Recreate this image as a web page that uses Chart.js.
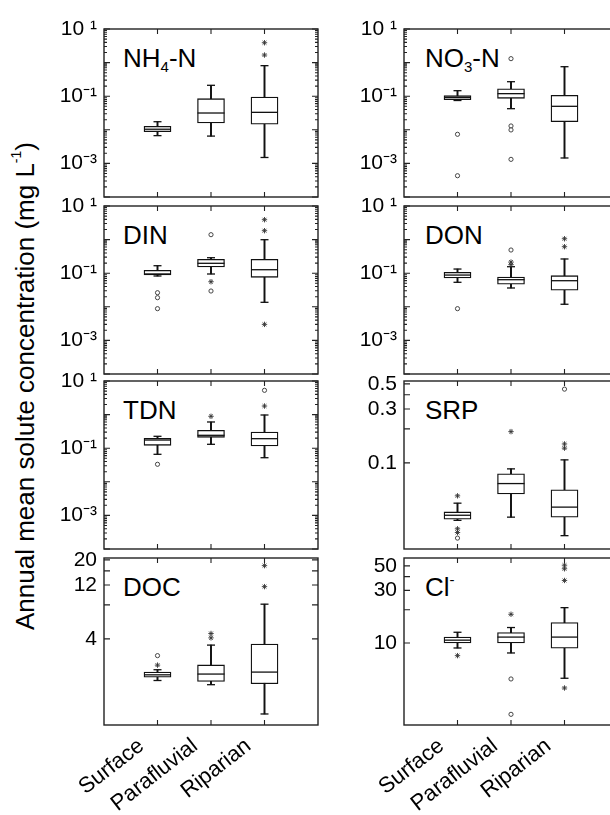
<!DOCTYPE html>
<html>
<head>
<meta charset="utf-8">
<script src="https://cdn.jsdelivr.net/npm/chart.js@4.4.1/dist/chart.umd.min.js"></script>
<style>
html, body { margin: 0; padding: 0; width: 610px; height: 815px; overflow: hidden; background: #fff; }
canvas { position: absolute; }
.lab { position: absolute; font: 26px 'Liberation Sans', Arial, sans-serif; line-height: 26px; color: #000; white-space: nowrap; }
.lab sub { font-size: 15px; position: relative; top: 5px; vertical-align: baseline; line-height: 0; }
.lab sup { font-size: 15px; position: relative; top: -11px; vertical-align: baseline; line-height: 0; }
#ytitle { position: absolute; left: 25px; top: 386px; transform: translate(-50%, -50%) rotate(-90deg);
  font: 26px 'Liberation Sans', Arial, sans-serif; white-space: nowrap; color: #000; }
#ytitle sup { font-size: 14px; position: relative; top: -3px; vertical-align: super; line-height: 0; }
</style>
</head>
<body>
<div id="ytitle">Annual mean solute concentration (mg L<sup>-1</sup>)</div>
<div class="lab" style="left:123px; top:45px">NH<sub>4</sub>-N</div>
<div class="lab" style="left:425px; top:45px">NO<sub>3</sub>-N</div>
<div class="lab" style="left:123px; top:222px">DIN</div>
<div class="lab" style="left:425px; top:222px">DON</div>
<div class="lab" style="left:123px; top:397px">TDN</div>
<div class="lab" style="left:425px; top:397px">SRP</div>
<div class="lab" style="left:123px; top:574px">DOC</div>
<div class="lab" style="left:425px; top:574px">Cl<sup>-</sup></div>
<script>
const groups = ['Surface', 'Parafluvial', 'Riparian'];

// per group: [lower whisker, Q1, median, Q3, upper whisker]
const nh4 = [[0.0067, 0.0088, 0.0104, 0.0127, 0.0174], [0.0065, 0.0159, 0.0316, 0.0843, 0.211], [0.0015, 0.0146, 0.0331, 0.0947, 0.81]];
const nh4Circles = [[], [], []];
const nh4Stars = [[], [], [3.9, 1.68]];

const no3 = [[0.0745, 0.0787, 0.0915, 0.1035, 0.146], [0.0425, 0.0865, 0.119, 0.167, 0.27], [0.00145, 0.0174, 0.05, 0.106, 0.755]];
const no3Circles = [[0.00735, 0.00043], [1.31, 0.013, 0.0099, 0.00132], []];
const no3Stars = [[], [], []];

const din = [[0.0826, 0.0884, 0.095, 0.122, 0.167], [0.0947, 0.153, 0.197, 0.259, 0.289], [0.0136, 0.0755, 0.127, 0.259, 0.993]];
const dinCircles = [[0.0263, 0.0187, 0.0088], [1.4, 0.0295], []];
const dinStars = [[], [0.0558], [3.91, 1.84, 0.003]];

const don = [[0.0536, 0.072, 0.088, 0.106, 0.133], [0.0363, 0.0468, 0.0641, 0.0771, 0.156], [0.0119, 0.031, 0.0598, 0.0843, 0.265]];
const donCircles = [[0.0088], [0.49], []];
const donStars = [[], [0.215, 0.18], [1.06, 0.615]];

const tdn = [[0.0658, 0.122, 0.175, 0.197, 0.226], [0.1306, 0.211, 0.242, 0.341, 0.603], [0.0521, 0.116, 0.192, 0.303, 0.973]];
const tdnCircles = [[0.0332], [], [5.28]];
const tdnStars = [[], [0.889], [1.8]];

const srp = [[0.031, 0.0318, 0.0344, 0.0368, 0.044], [0.0331, 0.0532, 0.0656, 0.0799, 0.0885], [0.0227, 0.0331, 0.0406, 0.0577, 0.1063]];
const srpCircles = [[0.0216], [], [0.449]];
const srpStars = [[0.0511, 0.0261, 0.0242], [0.189], [0.147, 0.135]];

const doc = [[1.71, 1.83, 1.92, 2.03, 2.13], [1.57, 1.68, 1.95, 2.35, 3.52], [0.864, 1.6, 2.03, 3.59, 8.11]];
const docCircles = [[2.84], [], []];
const docStars = [[2.34], [4.46, 4.08], [17.8, 11.6]];

const cl = [[9.0, 10.0, 10.6, 11.3, 12.5], [8.11, 10.0, 11.3, 12.4, 13.8], [4.78, 8.95, 11.3, 15.3, 20.9]];
const clCircles = [[], [4.71, 2.25], []];
const clStars = [[7.67], [18.2], [50.8, 47.1, 36.9, 3.9]];

// y tick labels
const decadeTicks = [10, 0.1, 0.001];
const decadeLabels = ['10 ¹', '10⁻¹', '10⁻³'];
const srpTicks = [0.5, 0.3, 0.1];
const srpMarks = [0.1, 0.2, 0.3, 0.4, 0.5];
const docTicks = [20, 12, 4];
const docMarks = [4, 8, 12, 16, 20];
const clTicks = [50, 30, 10];
const clMarks = [10, 20, 30, 40, 50];

// log axis tick marks, 1..9 per decade
const logMarks = [];
for (let e = -4; e <= 0; e++) {
    for (let m = 1; m <= 9; m++) logMarks.push({ v: m * Math.pow(10, e), major: m === 1 });
}
logMarks.push({ v: 10, major: true });
const plainMarks = arr => arr.map(v => ({ v: v, major: true }));

const rowTop = [29, 206, 381, 558];
const rowBottom = [197, 374, 549, 725];
const colLeft = [0, 300];
const FONT = "'Liberation Sans', Arial, sans-serif";

const panels = [
    { col: 0, row: 0, box: nh4, circles: nh4Circles, stars: nh4Stars, min: 1e-4, max: 10, ticks: decadeTicks, labels: decadeLabels, marks: logMarks },
    { col: 1, row: 0, box: no3, circles: no3Circles, stars: no3Stars, min: 1e-4, max: 10, ticks: decadeTicks, labels: decadeLabels, marks: logMarks },
    { col: 0, row: 1, box: din, circles: dinCircles, stars: dinStars, min: 1e-4, max: 10, ticks: decadeTicks, labels: decadeLabels, marks: logMarks },
    { col: 1, row: 1, box: don, circles: donCircles, stars: donStars, min: 1e-4, max: 10, ticks: decadeTicks, labels: decadeLabels, marks: logMarks },
    { col: 0, row: 2, box: tdn, circles: tdnCircles, stars: tdnStars, min: 1e-4, max: 10, ticks: decadeTicks, labels: decadeLabels, marks: logMarks },
    { col: 1, row: 2, box: srp, circles: srpCircles, stars: srpStars, min: 0.0173, max: 0.53, ticks: srpTicks, labels: srpTicks.map(String), marks: plainMarks(srpMarks) },
    { col: 0, row: 3, box: doc, circles: docCircles, stars: docStars, min: 0.69, max: 20.8, ticks: docTicks, labels: docTicks.map(String), marks: plainMarks(docMarks) },
    { col: 1, row: 3, box: cl, circles: clCircles, stars: clStars, min: 1.8, max: 59, ticks: clTicks, labels: clTicks.map(String), marks: plainMarks(clMarks) }
];

// frame with inward ticks, like the original plot
const frame = {
    id: 'frame',
    afterDatasetsDraw(chart, args, opts) {
        const { ctx, chartArea: a, scales: { x, y } } = chart;
        ctx.save();
        ctx.strokeStyle = '#222';
        ctx.lineWidth = 1.4;
        ctx.strokeRect(a.left, a.top, a.width, a.height);
        ctx.beginPath();
        ctx.lineWidth = 1.1;
        for (const t of opts.marks) {
            const py = y.getPixelForValue(t.v);
            const len = t.major ? 6 : 3;
            ctx.moveTo(a.left, py);
            ctx.lineTo(a.left + len, py);
            ctx.moveTo(a.right, py);
            ctx.lineTo(a.right - len, py);
        }
        groups.forEach((g, i) => {
            const px = x.getPixelForValue(i + 1);
            ctx.moveTo(px, a.top);
            ctx.lineTo(px, a.top + 5);
            ctx.moveTo(px, a.bottom);
            ctx.lineTo(px, a.bottom - 5);
        });
        ctx.stroke();
        ctx.restore();
    }
};

panels.forEach(p => {
    const last = p.row === 3;
    const cv = document.createElement('canvas');
    cv.width = 330;
    cv.height = last ? 15 + (rowBottom[p.row] - rowTop[p.row]) + 90 : (rowBottom[p.row] - rowTop[p.row]) + 30;
    cv.style.left = colLeft[p.col] + 'px';
    cv.style.top = (rowTop[p.row] - 15) + 'px';
    document.body.appendChild(cv);

    const pts = arr => arr.flatMap((vs, i) => vs.map(v => ({ x: i + 1, y: v })));

    new Chart(cv, {
        type: 'bar',
        data: {
            datasets: [
                {
                    type: 'bar', grouped: false, order: 5,
                    data: p.box.map((b, i) => ({ x: i + 1, y: [b[0], b[4]] })),
                    barThickness: 1.3, backgroundColor: '#111'
                },
                {
                    type: 'bar', grouped: false, order: 4,
                    data: p.box.map((b, i) => ({ x: i + 1, y: [b[1], b[3]] })),
                    barThickness: 27, backgroundColor: '#fff', borderColor: '#111',
                    borderWidth: 1.3, borderSkipped: false
                },
                {
                    type: 'line', showLine: false, order: 3,
                    data: p.box.map((b, i) => ({ x: i + 1, y: b[2] })),
                    pointStyle: 'line', pointRadius: 13.5, pointBorderWidth: 1.3, pointBorderColor: '#111'
                },
                {
                    type: 'line', showLine: false, order: 3,
                    data: p.box.flatMap((b, i) => [{ x: i + 1, y: b[0] }, { x: i + 1, y: b[4] }]),
                    pointStyle: 'line', pointRadius: 4, pointBorderWidth: 1.3, pointBorderColor: '#111'
                },
                {
                    type: 'line', showLine: false, order: 2,
                    data: pts(p.circles),
                    pointStyle: 'circle', pointRadius: 2.1, pointBackgroundColor: '#fff',
                    pointBorderColor: '#333', pointBorderWidth: 0.9
                },
                {
                    type: 'line', showLine: false, order: 2,
                    data: pts(p.stars),
                    pointStyle: 'star', pointRadius: 2.7, pointBorderColor: '#333', pointBorderWidth: 0.9
                }
            ]
        },
        options: {
            responsive: false,
            animation: false,
            events: [],
            layout: { autoPadding: false, padding: { top: 15, bottom: last ? 0 : 15, left: 0, right: 12 } },
            plugins: {
                legend: { display: false },
                tooltip: { enabled: false },
                frame: { marks: p.marks }
            },
            scales: {
                x: {
                    type: 'linear', min: 0, max: 4, offset: false, display: last,
                    grid: { display: false, drawTicks: false, offset: false },
                    border: { display: false },
                    afterBuildTicks: s => { s.ticks = groups.map((g, i) => ({ value: i + 1 })); },
                    afterFit: s => { s.height = last ? 90 : 0; s.paddingLeft = 0; s.paddingRight = 0; },
                    ticks: {
                        autoSkip: false, minRotation: 38, maxRotation: 38, padding: 8, labelOffset: -16,
                        color: '#000', font: { family: FONT, size: 22 },
                        callback: v => groups[v - 1]
                    }
                },
                y: {
                    type: 'logarithmic', min: p.min, max: p.max, bounds: 'data',
                    grid: { display: false, drawTicks: false },
                    border: { display: false },
                    afterBuildTicks: s => { s.ticks = p.ticks.map(v => ({ value: v })); },
                    afterFit: s => { s.width = 104; s.paddingTop = 0; s.paddingBottom = 0; },
                    ticks: {
                        autoSkip: false, padding: 7, color: '#000',
                        font: { family: FONT, size: 21 },
                        callback: (v, i) => p.labels[i]
                    }
                }
            }
        },
        plugins: [frame]
    });
});
</script>
</body>
</html>
